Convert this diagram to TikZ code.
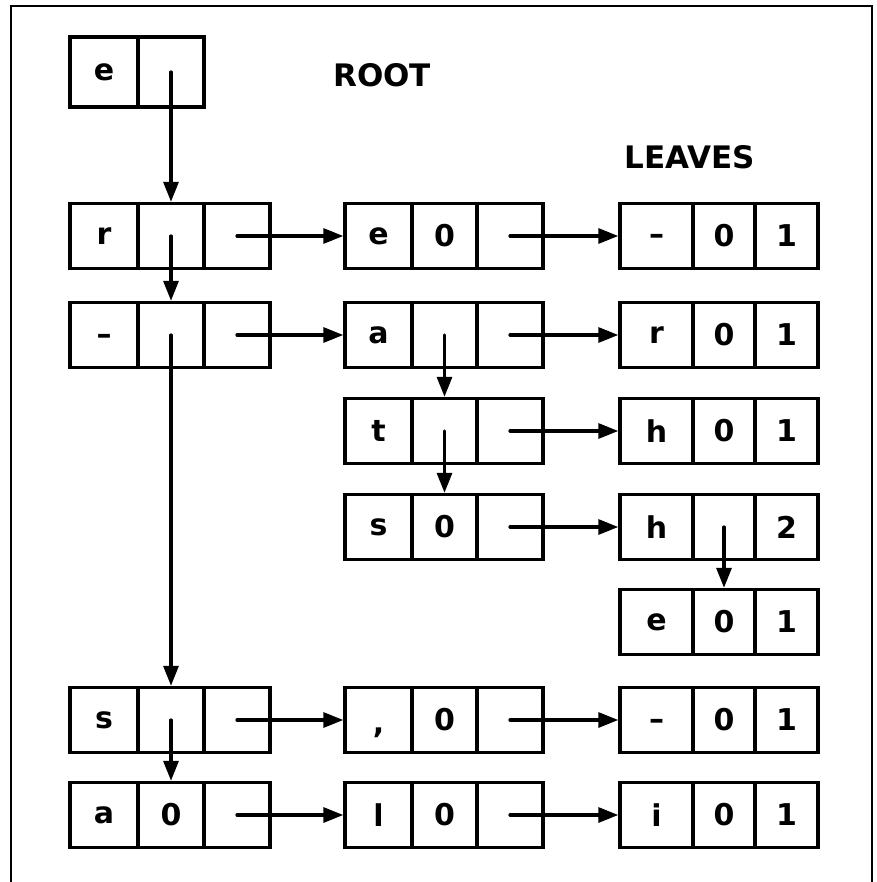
\documentclass[tikz,border=0pt]{standalone}
\usepackage{fontspec}
\setmainfont{DejaVu Sans}
\usetikzlibrary{arrows.meta}

\newcommand{\dashmark}{\raisebox{-0.3em}[0pt][0pt]{\textendash}}
\newcommand{\commamark}{\raisebox{-0.45em}[0pt][0pt]{,}}

\begin{document}
\begin{tikzpicture}[
  x=1pt,
  y=-1pt,
  cell/.style={draw, line width=3.4pt, rectangle, inner sep=0pt,
    minimum width=66, minimum height=65,
    font=\fontsize{30}{32}\selectfont\bfseries},
  link/.style={line width=3.2pt, line cap=round,
    -{Triangle[length=20pt, width=15pt]}},
  title/.style={font=\fontsize{31}{34}\selectfont\bfseries}
]
\useasboundingbox (0,0) rectangle (876,882);
\draw[line width=2.2pt] (11,882) -- (11,6) -- (872,6) -- (872,882);

% root
\node[cell, minimum width=68, minimum height=70] (A0-1) at (104,72) {e};
\node[cell, minimum height=70] (A0-2) at (171,72) {};
\node[title] (root) at (382,75) {ROOT};
\node[title] (leaves) at (690,157) {LEAVES};

% first column
\foreach \n/\y/\u/\v in {1/236/r/{}, 2/335/\dashmark/{}, 6/720/s/{}, 7/815/a/0} {
  \node[cell, minimum width=68] (A\n-1) at (104,\y) {\u};
  \node[cell] (A\n-2) at (171,\y) {\v};
  \node[cell] (A\n-3) at (237,\y) {};
}

% second column
\foreach \n/\y/\u/\v in {1/236/e/0, 2/335/a/{}, 3/431/t/{}, 4/527/s/0, 6/720/\commamark/0, 7/815/l/0} {
  \node[cell, minimum width=67] (B\n-1) at (378.5,\y) {\u};
  \node[cell, minimum width=65] (B\n-2) at (444.5,\y) {\v};
  \node[cell] (B\n-3) at (510,\y) {};
}

% leaves
\foreach \n/\y/\u/\v/\w in {1/236/\dashmark/0/1, 2/335/r/0/1, 3/431/h/0/1,
    4/527/h/{}/2, 5/622/e/0/1, 6/720/\dashmark/0/1, 7/815/i/0/1} {
  \node[cell, minimum width=73] (C\n-1) at (656.5,\y) {\u};
  \node[cell, minimum width=62] (C\n-2) at (724,\y) {\v};
  \node[cell, minimum width=63] (C\n-3) at (786.5,\y) {\w};
}

% down pointers
\draw[link] (A0-2.center) -- (A1-2.north);
\draw[link] (A1-2.center) -- (A2-2.north);
\draw[link] (A2-2.center) -- (A6-2.north);
\draw[link] (A6-2.center) -- (A7-2.north);
\draw[link] (B2-2.center) -- (B3-2.north);
\draw[link] (B3-2.center) -- (B4-2.north);
\draw[link] (C4-2.center) -- (C5-2.north);

% right pointers
\foreach \n in {1,2,6,7}
  \draw[link] (A\n-3.center) -- (B\n-1.west);
\foreach \n in {1,2,3,4,6,7}
  \draw[link] (B\n-3.center) -- (C\n-1.west);
\end{tikzpicture}
\end{document}
